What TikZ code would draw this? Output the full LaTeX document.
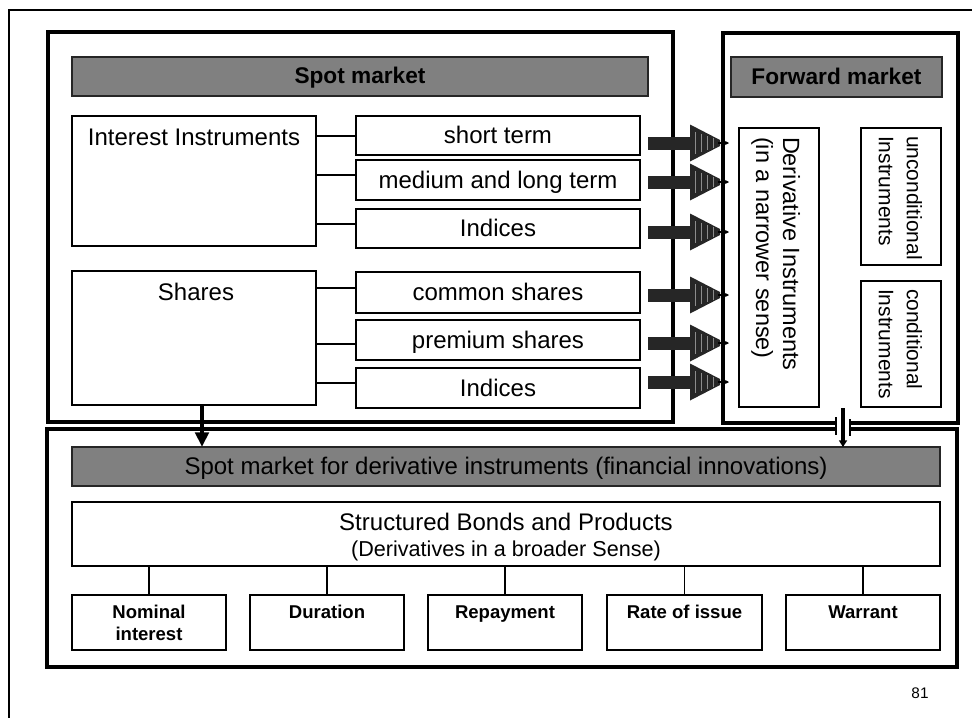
\documentclass[tikz,border=0pt]{standalone}
\usepackage{fontspec}
\setmainfont{Liberation Sans}
\usetikzlibrary{fit,arrows.meta,calc}
\begin{document}
\begin{tikzpicture}[x=0.75pt,y=-0.75pt,
  every node/.style={inner sep=0pt, outer sep=0pt},
  market/.style={draw, line width=3pt},
  banner/.style={draw=black!85, fill=black!50, line width=1pt},
  cell/.style={draw, line width=1pt},
  link/.style={line width=1pt},
  bigtxt/.style={font=\fontsize{18}{21}\selectfont},
  celltxt/.style={bigtxt, text height=14pt, text depth=2pt},
  headtxt/.style={font=\bfseries\fontsize{17}{20}\selectfont, text height=13pt, text depth=2pt},
  smalltxt/.style={font=\bfseries\fontsize{13.9}{16.5}\selectfont, align=center},
  vtxt/.style={rotate=-90, anchor=north west, align=left},
  feed/.style={line width=3pt},
  blockarrow/.pic={
    \fill[black!85] (0,-6.5) rectangle (42,6.5);
    \fill[black!85] (42,-18.5) -- (72,-3) -- (72,3) -- (42,18.5) -- cycle;
    \foreach \sx in {47,53,59,65}
      \draw[black!45, line width=0.5pt] (\sx,{-(18.5-(\sx-42)*0.5)*0.7}) -- (\sx,{(18.5-(\sx-42)*0.5)*0.7});
    \draw[line width=0.8pt, -{Stealth[length=3pt,width=3pt]}] (70,0) -- (81,0);
  }
]
\useasboundingbox (0,0) rectangle (972,718);

% page border
\draw[line width=1.5pt] (9,718) -- (9,10) -- (972,10);

% three market frames
\node[market, fit={(48,32)(673,422)}] (spot) {};
\node[market, fit={(723,33)(958,423)}] (fwd) {};
\node[market, fit={(47,429)(957,667)}] (sdi) {};

% headings
\node[banner, fit={(72,57)(648,96)}] (bspot) {};
\node[headtxt] (bspott) at (bspot.center) {Spot market};
\node[banner, fit={(731,57)(942,97)}] (bfwd) {};
\node[headtxt] (bfwdt) at (bfwd.center) {Forward market};
\node[banner, fit={(72,447)(940,486)}] (bsdi) {};
\node[celltxt] (bsdit) at (bsdi.center) {Spot market for derivative instruments (financial innovations)};

% spot market: instrument groups
\node[cell, fit={(72,116)(316,246)}] (ii) {};
\node[bigtxt, anchor=base] (iit) at (194,145) {Interest Instruments};
\node[cell, fit={(72,271)(316,405)}] (sh) {};
\node[bigtxt, anchor=base] (sht) at (196,300) {Shares};

\node[cell, fit={(356,116)(640,155)}] (st) {};
\node[cell, fit={(356,160)(640,200)}] (ml) {};
\node[cell, fit={(356,209)(640,248)}] (ixa) {};
\node[cell, fit={(356,272)(640,313)}] (cs) {};
\node[cell, fit={(356,320)(640,360)}] (ps) {};
\node[cell, fit={(356,368)(640,408)}] (ixb) {};
\node[celltxt] (stt) at (st.center) {short term};
\node[celltxt] (mlt) at (ml.center) {medium and long term};
\node[celltxt] (ixat) at (ixa.center) {Indices};
\node[celltxt] (cst) at (cs.center) {common shares};
\node[celltxt] (pst) at (ps.center) {premium shares};
\node[celltxt] (ixbt) at (ixb.center) {Indices};

\draw[link] (ii.east |- 0,136) -- (st.west |- 0,136);
\draw[link] (ii.east |- 0,175) -- (ml.west |- 0,175);
\draw[link] (ii.east |- 0,224) -- (ixa.west |- 0,224);
\draw[link] (sh.east |- 0,288) -- (cs.west |- 0,288);
\draw[link] (sh.east |- 0,344) -- (ps.west |- 0,344);
\draw[link] (sh.east |- 0,383) -- (ixb.west |- 0,383);

% forward market
\node[cell, fit={(739,128)(819,407)}] (dib) {};
\node[vtxt, font=\fontsize{17.6}{20.25}\selectfont] (dit) at (800,137) {Derivative Instruments\\(in a narrower sense)};
\node[cell, fit={(861,128)(941,265)}] (unc) {};
\node[vtxt, font=\fontsize{15.75}{21}\selectfont] (unct) at (922,136) {unconditional\\Instruments};
\node[cell, fit={(861,281)(941,407)}] (cnd) {};
\node[vtxt, font=\fontsize{15.75}{21}\selectfont] (cndt) at (922,289) {conditional\\Instruments};

% block arrows into the forward market
\pic at ($(st.east)+(8,7.5)$) {blockarrow};
\pic at ($(ml.east)+(8,2)$) {blockarrow};
\pic at ($(ixa.east)+(8,3.5)$) {blockarrow};
\pic at ($(cs.east)+(8,2.5)$) {blockarrow};
\pic at ($(ps.east)+(8,3)$) {blockarrow};
\pic at ($(ixb.east)+(8,-6)$) {blockarrow};

% feeds into the spot market for derivatives
\coordinate (shout) at ($(sh.south)+(8,0)$);
\draw[feed, -{Triangle[width=10pt,length=11pt]}] (shout) -- (shout |- bsdi.north);

\coordinate (fwdout) at (843,408);
\fill[white] (836,417) rectangle (850,436);
\draw[line width=2pt] (836,417) -- (836,435) (850,419) -- (850,436);
\draw[feed, -{Triangle[width=6pt,length=5pt]}] (fwdout) -- (fwdout |- bsdi.north);

% structured products
\node[cell, fit={(72,502)(940,566)}] (sbp) {};
\node[align=center, anchor=north, font=\fontsize{18}{19.5}\selectfont] (sbpt) at (506,513)
  {Structured Bonds and Products\\{\fontsize{16.2}{19.5}\selectfont (Derivatives in a broader Sense)}};

\node[cell, fit={(72,595)(226,650)}] (n1) {};
\node[cell, fit={(250,595)(404,650)}] (n2) {};
\node[cell, fit={(428,595)(582,650)}] (n3) {};
\node[cell, fit={(607,595)(762,650)}] (n4) {};
\node[cell, fit={(786,595)(940,650)}] (n5) {};
\node[smalltxt, anchor=north] (n1t) at (n1.north |- 0,605) {Nominal\\interest};
\node[smalltxt, anchor=base] (n2t) at (n2.north |- 0,618) {Duration};
\node[smalltxt, anchor=base] (n3t) at (n3.north |- 0,618) {Repayment};
\node[smalltxt, anchor=base] (n4t) at (n4.north |- 0,618) {Rate of issue};
\node[smalltxt, anchor=base] (n5t) at (n5.north |- 0,618) {Warrant};
\foreach \n in {n1,n2,n3,n4,n5}
  \draw[link] (\n.north) -- (\n.north |- sbp.south);

% page number
\node[font=\fontsize{11.5}{13}\selectfont] (pg) at (920,693.5) {81};
\end{tikzpicture}
\end{document}
